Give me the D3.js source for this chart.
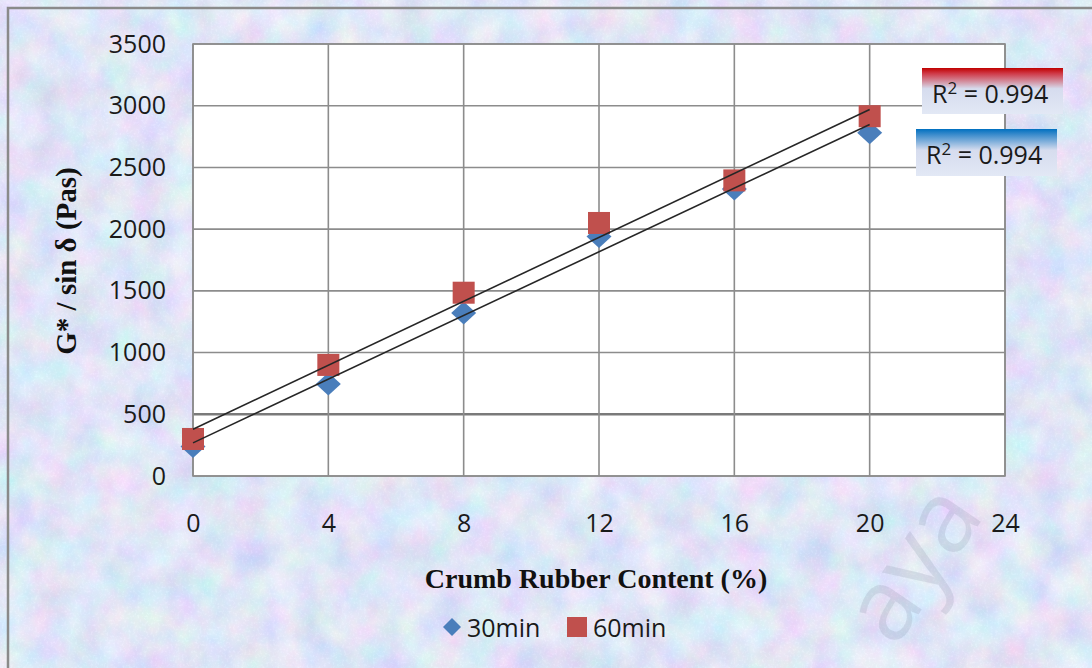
<!DOCTYPE html>
<html>
<head>
<meta charset="utf-8">
<script src="https://cdn.jsdelivr.net/npm/d3@7/dist/d3.min.js"></script>
<style>
  html, body { margin: 0; padding: 0; background: #fff; }
  svg { display: block; }
</style>
</head>
<body>
<script>
// Crumb rubber content (%) vs G*/sin δ at two mixing times
const contents = [0, 4, 8, 12, 16, 20];
const g30min = [240, 745, 1320, 1940, 2325, 2780];
const g60min = [300, 900, 1485, 2050, 2395, 2915];
const xTicks = [0, 4, 8, 12, 16, 20, 24];
const yTicks = [0, 500, 1000, 1500, 2000, 2500, 3000, 3500];
const seriesNames = ["30min", "60min"];
const r2Labels = ["R\u00b2 = 0.994", "R\u00b2 = 0.994"];

const W = 1092, H = 668;
const svg = d3.select("body").append("svg").attr("width", W).attr("height", H);
const defs = svg.append("defs");

// mottled pastel paper texture
const tex = defs.append("filter").attr("id", "paper")
  .attr("x", 0).attr("y", 0).attr("width", "100%").attr("height", "100%");
tex.append("feTurbulence").attr("type", "fractalNoise")
  .attr("baseFrequency", "0.03 0.028").attr("numOctaves", 4).attr("seed", 7).attr("result", "n1");
tex.append("feColorMatrix").attr("in", "n1").attr("type", "matrix")
  .attr("values", "0.45 0 0 0 0.53  0 0.36 0 0 0.62  0 0 0.2 0 0.84  0 0 0 0 1")
  .attr("result", "c1");
tex.append("feTurbulence").attr("type", "fractalNoise")
  .attr("baseFrequency", "0.45").attr("numOctaves", 2).attr("seed", 3).attr("result", "n2");
tex.append("feColorMatrix").attr("in", "n2").attr("type", "matrix")
  .attr("values", "0.16 0 0 0 -0.08  0.16 0 0 0 -0.08  0.16 0 0 0 -0.08  0 0 0 0 1")
  .attr("result", "g2");
tex.append("feComposite").attr("in", "c1").attr("in2", "g2")
  .attr("operator", "arithmetic").attr("k1", 0).attr("k2", 1).attr("k3", 1).attr("k4", -0.02);

svg.append("rect").attr("x", 0).attr("y", 0).attr("width", W).attr("height", H)
  .attr("fill", "#c6d3f1").attr("filter", "url(#paper)");

// outer frame
svg.append("rect").attr("x", 8).attr("y", 8).attr("width", W + 20).attr("height", H + 20)
  .attr("fill", "none").attr("stroke", "#8a8a8a").attr("stroke-width", 2.5);

const x = d3.scaleLinear().domain([0, 24]).range([193, 1005]);
const y = d3.scaleLinear().domain([0, 3500]).range([476, 44]);

// plot area
svg.append("rect").attr("x", x(0)).attr("y", y(3500))
  .attr("width", x(24) - x(0)).attr("height", y(0) - y(3500))
  .attr("fill", "#fff");

// grid
const grid = svg.append("g");
grid.selectAll("line.h").data(yTicks).join("line")
  .attr("x1", x(0)).attr("x2", x(24))
  .attr("y1", d => y(d)).attr("y2", d => y(d))
  .attr("stroke", d => d === 500 ? "#7a7a7a" : "#8c8c8c")
  .attr("stroke-width", d => d === 500 ? 2.6 : 1.6);
grid.selectAll("line.v").data(xTicks).join("line")
  .attr("y1", y(0)).attr("y2", y(3500))
  .attr("x1", d => x(d)).attr("x2", d => x(d))
  .attr("stroke", "#8c8c8c").attr("stroke-width", 1.6);
svg.append("rect").attr("x", x(0)).attr("y", y(3500))
  .attr("width", x(24) - x(0)).attr("height", y(0) - y(3500))
  .attr("fill", "none").attr("stroke", "#8c8c8c").attr("stroke-width", 1.6);

// faint diagonal watermark below the plot area
svg.append("text")
  .attr("transform", "translate(908,560) rotate(-56)")
  .attr("text-anchor", "middle")
  .attr("dominant-baseline", "central")
  .attr("font-family", "'Open Sans', sans-serif")
  .attr("font-size", 100)
  .attr("fill", "#8a92a8").attr("fill-opacity", 0.22)
  .text("aya");

// axes (labels only; lines come from the grid)
const tickFont = "'Open Sans', sans-serif";
const yAxis = svg.append("g").attr("transform", `translate(${x(0)},0)`)
  .call(d3.axisLeft(y).tickValues(yTicks).tickFormat(d3.format("d")).tickSize(0).tickPadding(27));
const xAxis = svg.append("g").attr("transform", `translate(0,${y(0)})`)
  .call(d3.axisBottom(x).tickValues(xTicks).tickFormat(d3.format("d")).tickSize(0).tickPadding(38));
[yAxis, xAxis].forEach(a => {
  a.select(".domain").remove();
  a.selectAll("text").attr("font-family", tickFont).attr("font-size", 25).attr("fill", "#1a1a1a");
});

// markers
const diamondPath = (w, h) => `M0,${-h}L${w},0L0,${h}L${-w},0Z`;
svg.append("g").selectAll("path").data(contents.map((c, i) => [c, g30min[i]])).join("path")
  .attr("d", diamondPath(12.5, 11.5))
  .attr("transform", d => `translate(${x(d[0])},${y(d[1])})`)
  .attr("fill", "#4a7ebb");
svg.append("g").selectAll("rect").data(contents.map((c, i) => [c, g60min[i]])).join("rect")
  .attr("x", d => x(d[0]) - 11).attr("y", d => y(d[1]) - 11)
  .attr("width", 22).attr("height", 22)
  .attr("fill", "#c0504d");

// least-squares trendlines
function fit(xs, ys) {
  const mx = d3.mean(xs), my = d3.mean(ys);
  const sxy = d3.sum(xs, (v, i) => (v - mx) * (ys[i] - my));
  const sxx = d3.sum(xs, v => (v - mx) ** 2);
  const b = sxy / sxx;
  return { a: my - b * mx, b };
}
const line = d3.line().x(d => x(d[0])).y(d => y(d[1]));
[g30min, g60min].forEach(vals => {
  const f = fit(contents, vals);
  const ends = [contents[0], contents[contents.length - 1]].map(c => [c, f.a + f.b * c]);
  svg.append("path").attr("d", line(ends))
    .attr("fill", "none").attr("stroke", "#262626").attr("stroke-width", 1.6);
});

// R² label boxes
const boxes = [
  { x: 922, y: 68, w: 141, h: 46, top: "#c00000", mid: "#cf3a48", label: r2Labels[1] },
  { x: 916, y: 129, w: 141, h: 47, top: "#0070c0", mid: "#3c8ccc", label: r2Labels[0] }
];
boxes.forEach((b, i) => {
  const gid = "r2grad" + i;
  const gr = defs.append("linearGradient").attr("id", gid)
    .attr("x1", 0).attr("y1", 0).attr("x2", 0).attr("y2", 1);
  gr.append("stop").attr("offset", "0%").attr("stop-color", b.top);
  gr.append("stop").attr("offset", "12%").attr("stop-color", b.mid);
  gr.append("stop").attr("offset", "45%").attr("stop-color", "#d6dcee");
  gr.append("stop").attr("offset", "100%").attr("stop-color", "#e2e8f5");
  svg.append("rect").attr("x", b.x).attr("y", b.y).attr("width", b.w).attr("height", b.h)
    .attr("fill", `url(#${gid})`);
  const t = svg.append("text").attr("x", b.x + 10).attr("y", b.y + 35)
    .attr("font-family", tickFont).attr("font-size", 25).attr("fill", "#1a1a1a");
  const parts = b.label.split("\u00b2");
  t.append("tspan").text(parts[0]);
  t.append("tspan").attr("font-size", 17).attr("dy", -9).text("2");
  t.append("tspan").attr("dy", 9).text(parts[1]);
});

// axis titles
const titleFont = "'Liberation Serif', 'Times New Roman', serif";
svg.append("text")
  .attr("x", 596).attr("y", 588)
  .attr("text-anchor", "middle")
  .attr("font-family", titleFont).attr("font-weight", "bold").attr("font-size", 28)
  .attr("fill", "#111")
  .text("Crumb Rubber Content (%)");
svg.append("text")
  .attr("transform", "translate(76,261) rotate(-90)")
  .attr("text-anchor", "middle")
  .attr("font-family", titleFont).attr("font-weight", "bold").attr("font-size", 29)
  .attr("fill", "#111")
  .text("G* / sin \u03b4 (Pas)");

// legend
const leg = svg.append("g");
leg.append("path").attr("d", diamondPath(9, 9))
  .attr("transform", "translate(452,627)").attr("fill", "#4a7ebb");
leg.append("text").attr("x", 467).attr("y", 637)
  .attr("font-family", tickFont).attr("font-size", 25).attr("fill", "#1a1a1a").text(seriesNames[0]);
leg.append("rect").attr("x", 567).attr("y", 617).attr("width", 20).attr("height", 20).attr("fill", "#c0504d");
leg.append("text").attr("x", 593).attr("y", 637)
  .attr("font-family", tickFont).attr("font-size", 25).attr("fill", "#1a1a1a").text(seriesNames[1]);
</script>
</body>
</html>
